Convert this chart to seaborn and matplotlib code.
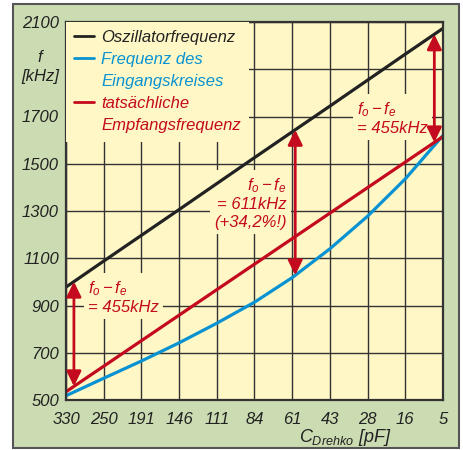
import numpy as np
import pandas as pd
import seaborn as sns
from matplotlib import pyplot as plt
from matplotlib.patches import Rectangle
from matplotlib.lines import Line2D

#%% # data

c_labels = ['330', '250', '191', '146', '111', '84', '61', '43', '28', '16', '5']
f_osz = [978, 1088, 1197, 1306, 1416, 1526, 1635, 1744, 1854, 1964, 2073]
f_ein = [518, 592, 665, 742, 825, 914, 1018, 1140, 1278, 1436, 1620]
f_emp = [535, 643, 751, 859, 967, 1075, 1183, 1291, 1399, 1507, 1615]
y_ticks = [500, 700, 900, 1100, 1300, 1500, 1700, 1900, 2100]
y_ticklabels = ['500', '700', '900', '1100', '1300', '1500', '1700', '', '2100']

df = pd.DataFrame({'pos': np.arange(len(c_labels)), 'osz': f_osz,
                   'ein': f_ein, 'emp': f_emp})

#%% # style

sns.set_style('white')
plt.rcParams['font.family'] = ['Liberation Sans', 'DejaVu Sans']
plt.rcParams['font.style'] = 'italic'
plt.rcParams['mathtext.fontset'] = 'custom'
plt.rcParams['mathtext.it'] = 'Liberation Sans:italic'
plt.rcParams['mathtext.rm'] = 'Liberation Sans:italic'

c_black = '#222222'
c_blue = '#0992d2'
c_red = '#c40a1e'
c_yellow = '#fff8c6'
c_green = '#cbdcb2'
c_grid = '#333333'

fig = plt.figure(figsize=(4.64, 4.50), dpi=100, facecolor='white')
fig.patches.append(Rectangle((13/464, 2/450), 446/464, 444/450, transform=fig.transFigure,
                             facecolor=c_green, edgecolor='#555555', lw=1.5, zorder=-10))
ax = fig.add_axes([66/464, 1 - 400/450, 377/464, 378/450])
ax.set_zorder(5)
ax.set_facecolor(c_yellow)

sns.lineplot(data=df, x='pos', y='osz', color=c_black, lw=2.3, ax=ax)
sns.lineplot(data=df, x='pos', y='ein', color=c_blue, lw=2.3, ax=ax)
sns.lineplot(data=df, x='pos', y='emp', color=c_red, lw=2.3, ax=ax)

ax.set_xlim(0, len(c_labels) - 1)
ax.set_ylim(500, 2100)
ax.set_xticks(df['pos'])
ax.set_xticklabels(c_labels)
ax.set_yticks(y_ticks)
ax.set_yticklabels(y_ticklabels)
ax.tick_params(length=0, labelsize=12, colors='#222222', pad=5)
ax.tick_params(axis='x', pad=9)
ax.set_axisbelow(True)
ax.grid(True, color=c_grid, lw=1)
for s in ax.spines.values():
    s.set_color(c_grid)
    s.set_linewidth(1.6)

ax.set_ylabel('')
ax.set_xlabel(r'$C_{Drehko}$ [pF]', fontsize=13, color='#222222')
ax.xaxis.set_label_coords(0.74, -0.072)
fig.text(40/464, 1 - 67/450, 'f\n[kHz]', ha='center', va='center', fontsize=12,
         color='#222222', linespacing=1.3, zorder=6)

#%% # legend, one row per text line, handle only on the first line

leg_rows = [('Oszillatorfrequenz', c_black, True),
            ('Frequenz des', c_blue, True),
            ('Eingangskreises', c_blue, False),
            ('tatsächliche', c_red, True),
            ('Empfangsfrequenz', c_red, False)]
handles = [Line2D([], [], color=c if show else 'none', lw=2) for _, c, show in leg_rows]
leg = ax.legend(handles, [t for t, _, _ in leg_rows], loc='upper left', bbox_to_anchor=(0, 1),
                borderaxespad=0, borderpad=0.5, handlelength=1.15, handletextpad=0.45,
                labelspacing=0.42, fontsize=12, frameon=True, fancybox=False,
                facecolor=c_yellow, edgecolor='none', framealpha=1)
for txt, (_, c, _) in zip(leg.get_texts(), leg_rows):
    txt.set_color(c)

#%% # arrows and annotations

box = dict(boxstyle='square,pad=0.25', fc=c_yellow, ec='none')
arrows = [(0.21, f_osz, f_emp), (6.08, f_osz, f_ein), (9.77, f_osz, f_emp)]
for xa, top, bot in arrows:
    y_top = np.interp(xa, df['pos'], top)
    y_bot = np.interp(xa, df['pos'], bot)
    ax.annotate('', xy=(xa, y_bot), xytext=(xa, y_top),
                arrowprops=dict(arrowstyle='<|-|>,head_length=0.45,head_width=0.22',
                                mutation_scale=20, color=c_red, lw=2,
                                shrinkA=0, shrinkB=0), zorder=4)

ax.text(0.58, 936, '$f_o - f_e$\n= 455kHz', ha='left', va='center', color=c_red,
        fontsize=12, linespacing=1.2, bbox=box, zorder=1)
ax.text(5.86, 1334, '$f_o - f_e$\n= 611kHz\n(+34,2%!)', ha='right', va='center',
        color=c_red, fontsize=12, linespacing=1.2, multialignment='right', bbox=box, zorder=1)
ax.text(7.72, 1694, '$f_o - f_e$\n= 455kHz', ha='left', va='center', color=c_red,
        fontsize=12, linespacing=1.2, bbox=box, zorder=1)

plt.savefig('out.png', dpi=100)
